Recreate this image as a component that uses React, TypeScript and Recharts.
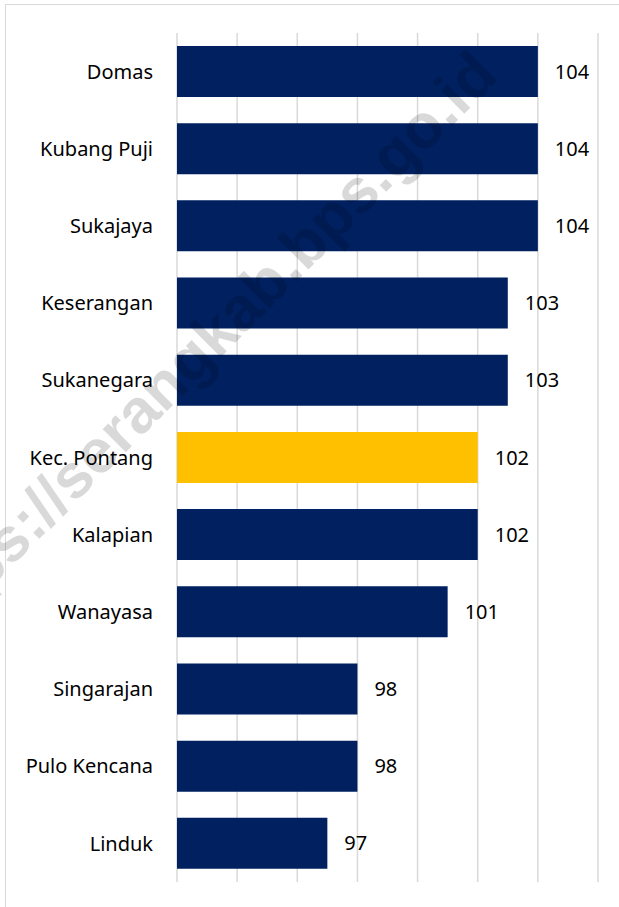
import React from 'react';
import { BarChart, Bar, XAxis, YAxis, CartesianGrid, Cell, LabelList } from 'recharts';

const categories = ['Domas', 'Kubang Puji', 'Sukajaya', 'Keserangan', 'Sukanegara', 'Kec. Pontang', 'Kalapian', 'Wanayasa', 'Singarajan', 'Pulo Kencana', 'Linduk'];
const values = [104, 104, 104, 103, 103, 102, 102, 101, 98, 98, 97];
const highlightCategory = 'Kec. Pontang';
const xTicks = [92, 94, 96, 98, 100, 102, 104, 106];
const watermarkText = 'https://serangkab.bps.go.id';

const data = categories.map((name, i) => ({ name, value: values[i] }));

const FONT = '"Noto Sans", "Open Sans", sans-serif';

const EmptyTick = () => <g />;

export default function App() {
  return (
    <div style={{ position: 'fixed', left: 0, top: 0, width: 619, height: 907, background: '#fff', overflow: 'hidden' }}>
      <div style={{ position: 'absolute', left: 5, top: 4, width: 700, height: 1000, borderTop: '1.5px solid #d9d9d9', borderLeft: '1.5px solid #d9d9d9' }} />
      <div style={{ position: 'absolute', left: 0, top: 0 }}>
        <BarChart
          width={619}
          height={907}
          data={data}
          layout="vertical"
          margin={{ top: 33, right: 21, bottom: 24, left: 0 }}
          barSize={51}
        >
          <CartesianGrid horizontal={false} stroke="#d9d9d9" strokeWidth={1.5} />
          <XAxis type="number" domain={[92, 106]} ticks={xTicks} tick={EmptyTick} axisLine={false} tickLine={false} height={1} allowDataOverflow />
          <YAxis
            type="category"
            dataKey="name"
            width={177}
            axisLine={false}
            tickLine={false}
            tickSize={6}
            tickMargin={18}
            tick={{ fill: '#000', fontSize: 20, fontFamily: FONT }}
            interval={0}
          />
          <Bar dataKey="value" isAnimationActive={false}>
            {data.map((d) => (
              <Cell key={d.name} fill={d.name === highlightCategory ? '#FFC000' : '#002060'} />
            ))}
            <LabelList dataKey="value" position="right" offset={17} fill="#000" fontSize={20} fontFamily={FONT} />
          </Bar>
        </BarChart>
      </div>
      <svg width={619} height={907} style={{ position: 'absolute', left: 0, top: 0, pointerEvents: 'none' }}>
        <text
          x={214}
          y={364}
          textAnchor="middle"
          transform="rotate(-45 214 364)"
          fontFamily='"Liberation Sans", Arial, sans-serif'
          fontWeight="bold"
          fontSize={62}
          fill="#000"
          fillOpacity={0.15}
        >
          {watermarkText}
        </text>
      </svg>
    </div>
  );
}
